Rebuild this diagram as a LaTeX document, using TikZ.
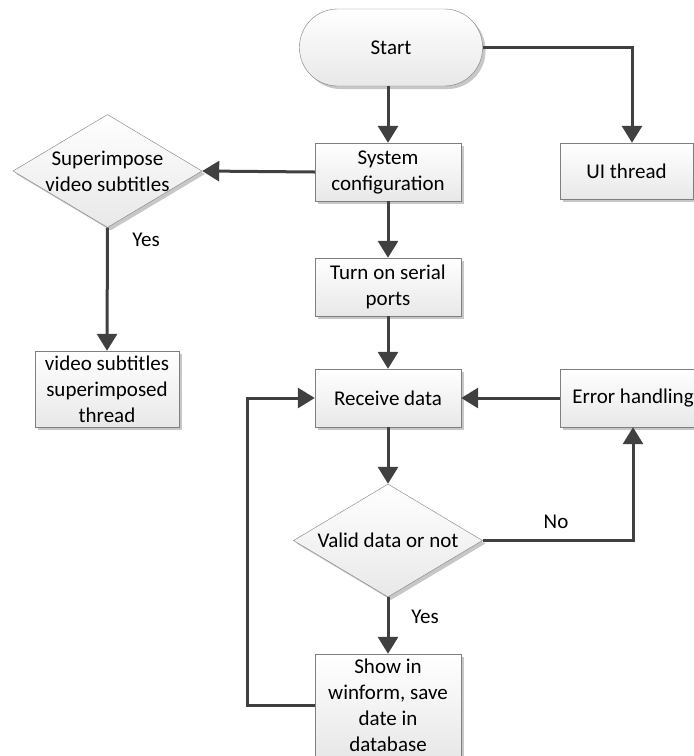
\documentclass[tikz,border=0pt]{standalone}
\usepackage{fontspec}
\setmainfont{Carlito}
\usetikzlibrary{arrows.meta,shapes.geometric,shadows}
\definecolor{linegray}{HTML}{404040}
\definecolor{boxgray}{HTML}{7F7F7F}
\begin{document}
\begin{tikzpicture}[x=1pt, y=-1pt, >={Triangle[width=20pt,length=17pt]},
    font=\fontsize{21}{26}\selectfont,
    box/.style={draw=boxgray, top color=white, bottom color=black!9,
      drop shadow={shadow xshift=3pt, shadow yshift=-3pt, fill=black!22, opacity=1},
      minimum width=146pt, minimum height=58pt, align=center, inner sep=0pt},
    dia/.style={box, shape=diamond, minimum width=189pt, minimum height=113pt},
    arr/.style={->, draw=linegray, line width=3pt}]
  \useasboundingbox (0,0) rectangle (694,756);

      \node[box, rounded corners=38pt, minimum width=183pt, minimum height=77pt] (start) at (391,47.5) {Start};
      \node[box] (sys) at (388,172) {System\\configuration};
      \node[box, minimum width=133pt, minimum height=56pt] (ui) at (626.5,171) {UI thread};
      \node[dia] (super) at (107.5,171) {};
      \node[align=center] (superlbl) at (super) {Superimpose\\video subtitles};
      \node[box, minimum width=144pt, minimum height=76pt] (vst) at (107,389) {video subtitles\\superimposed\\thread};
      \node[box] (ports) at (388,287) {Turn on serial\\ports};
      \node[box] (recv) at (388,398) {Receive data};
      \node[box] (err) at (633,398) {Error handling};
      \node[dia] (valid) at (388,540.5) {};
      \node (validlbl) at (valid) {Valid data or not};
      \node[box, minimum height=102pt] (show) at (388,705) {Show in\\winform, save\\date in\\database};

      \draw[arr] (sys.north |- start.south) -- (sys.north);
      \draw[arr] (start.east) -| ([xshift=5.5pt]ui.north);
      \draw[arr] (sys.west) -- (super.east);
      \draw[arr] (super.south) -- (vst.north);
      \draw[arr] (sys) -- (ports);
      \draw[arr] (ports) -- (recv);
      \draw[arr] (err) -- (recv);
      \draw[arr] (recv) -- (valid);
      \draw[arr] (valid.east) -| (err.south);
      \draw[arr] (valid.south) -- (show.north);
      \coordinate (loop) at (247,705);
      \draw[arr] (show.west) -- (loop) |- (recv.west);

    \node (yes1) at (146,240) {Yes};
    \node (no) at (556,522) {No};
    \node (yes2) at (425,617) {Yes};

\end{tikzpicture}
\end{document}
